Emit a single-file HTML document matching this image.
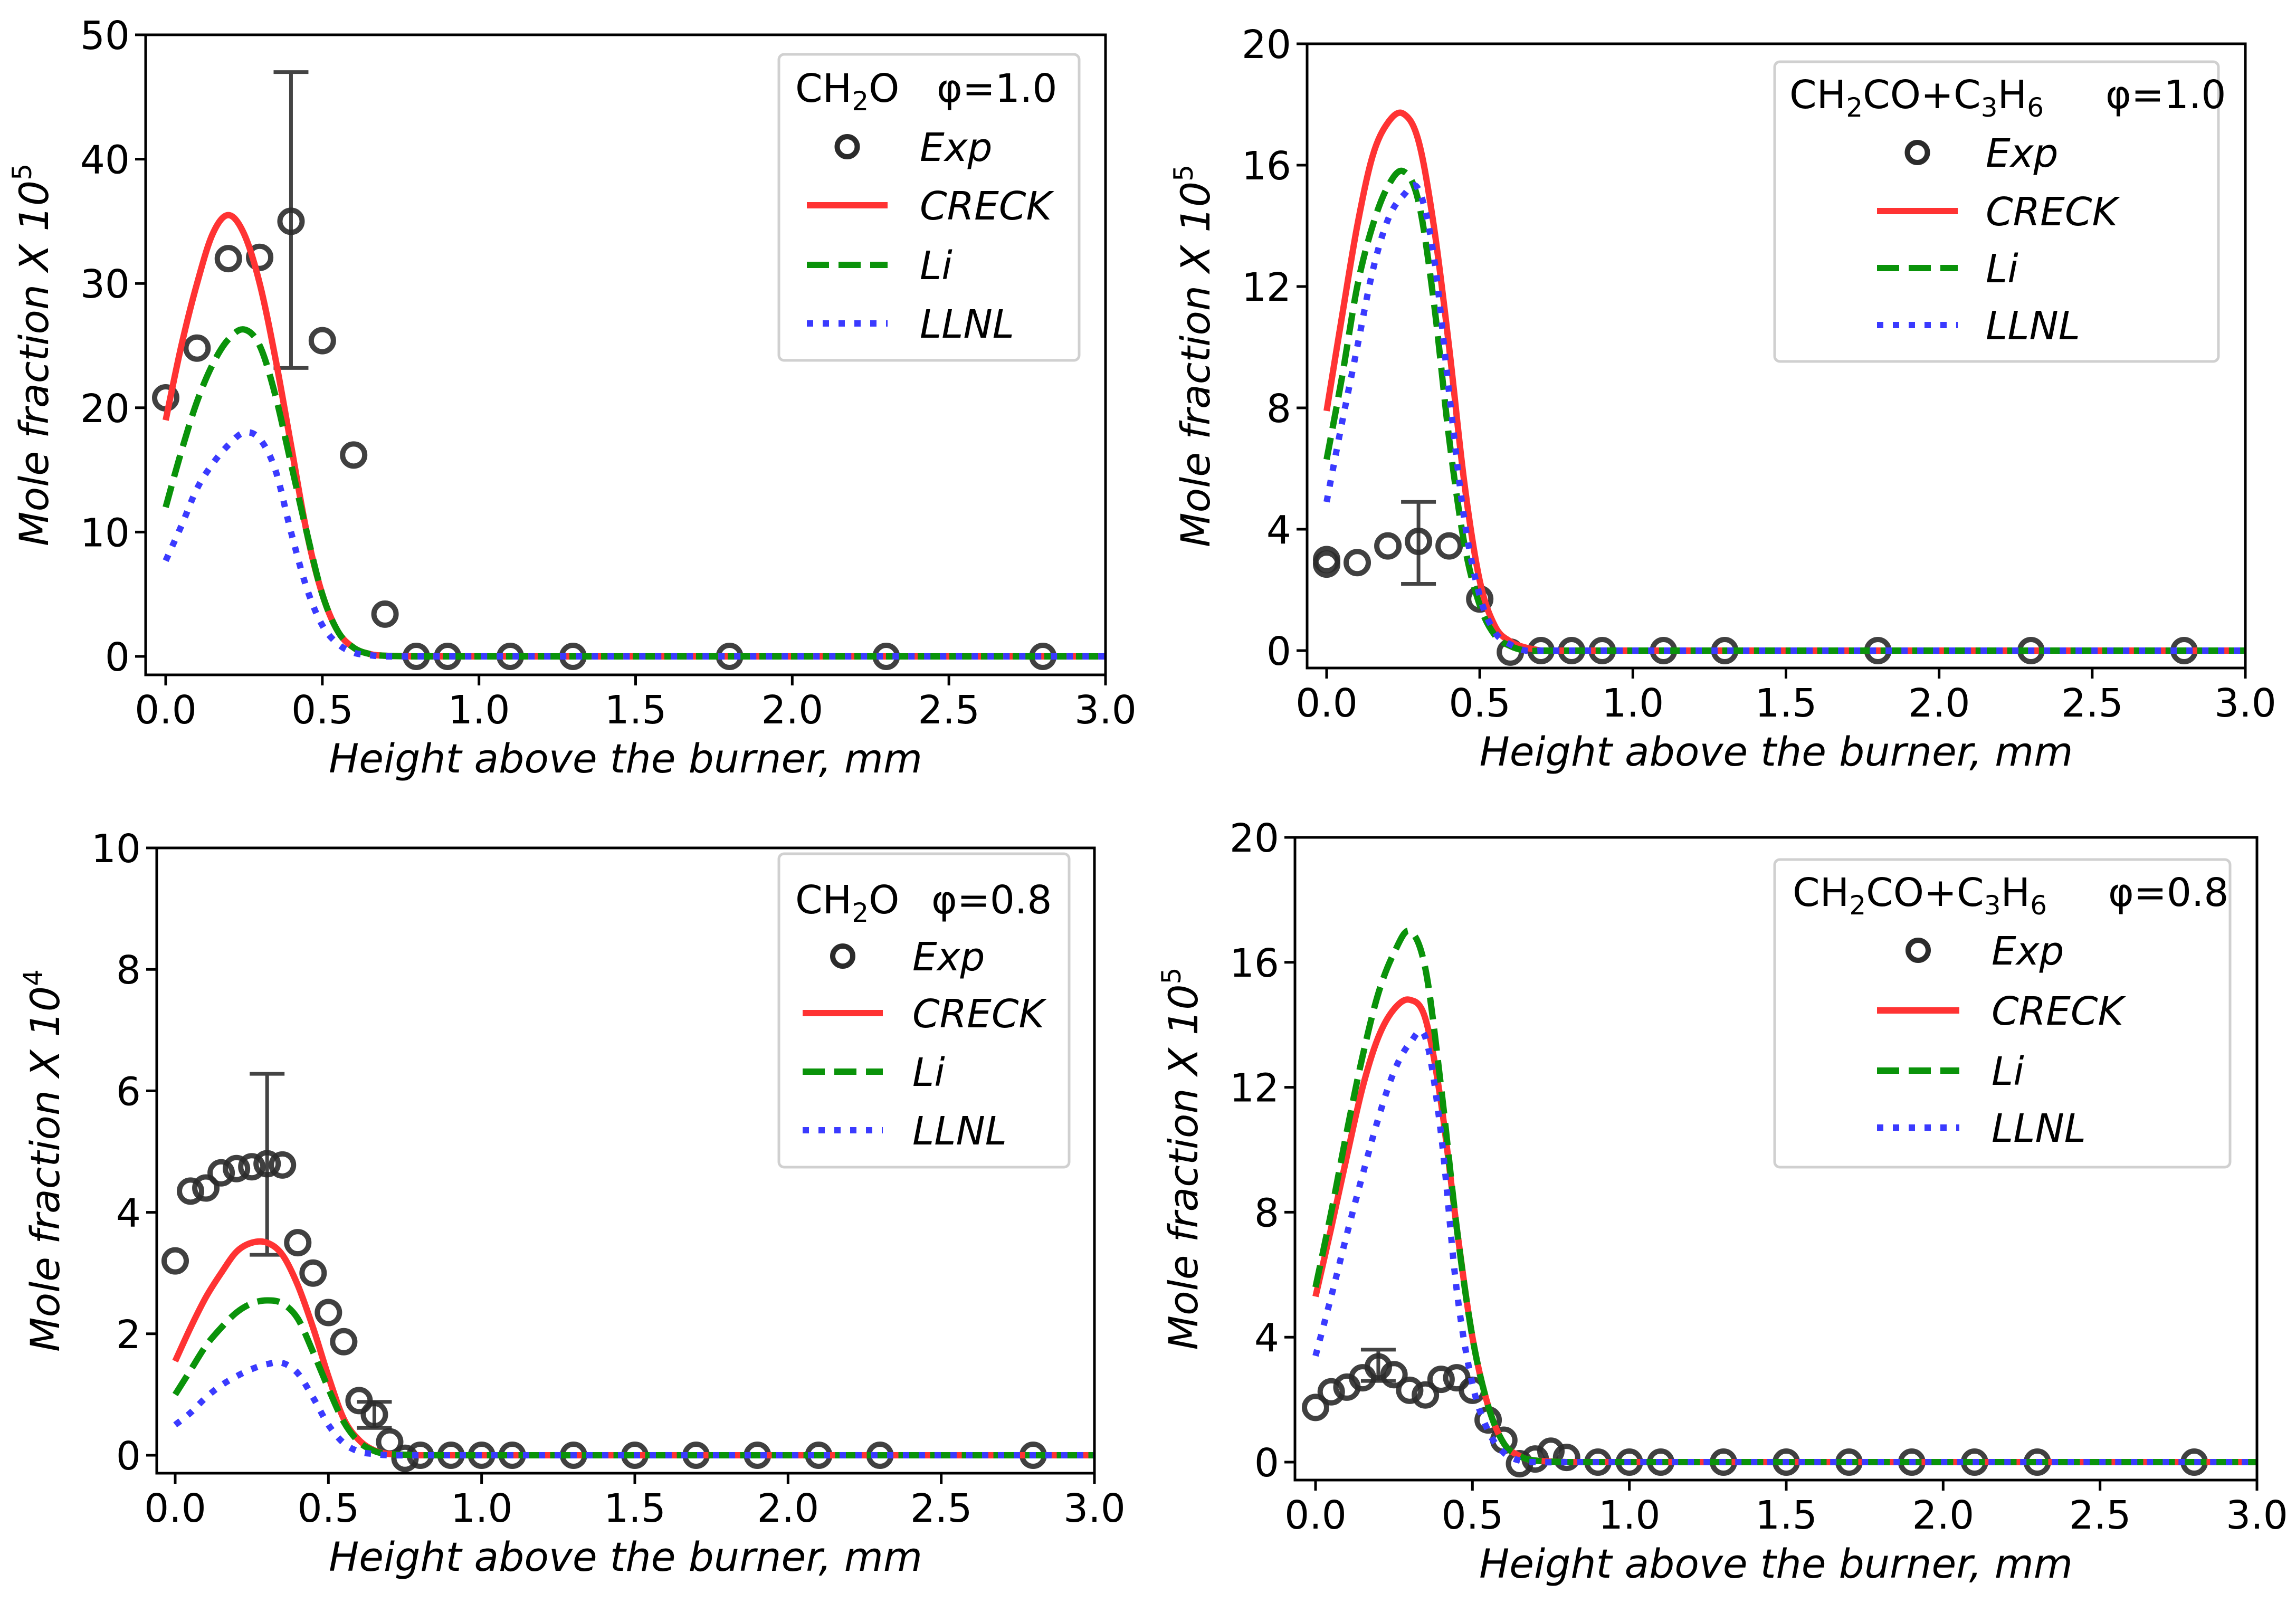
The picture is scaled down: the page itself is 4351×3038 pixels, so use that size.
<!DOCTYPE html>
<html><head><meta charset="utf-8"><style>
html,body{margin:0;padding:0;background:#fff}
svg{display:block}
text{font-family:"DejaVu Sans","Liberation Sans",sans-serif;fill:#000}
</style></head><body>
<svg id="fig" width="4351" height="3038" viewBox="0 0 4351 3038" xmlns="http://www.w3.org/2000/svg"></svg>
<script>
// ---- Panel A: CH2O phi=1.0 (x1e5)
const xA = [0,0.05,0.1,0.15,0.2,0.25,0.3,0.35,0.4,0.45,0.5,0.55,0.6,0.65,0.7,0.8,3.0];
const crecksA = [19,25,30,34,35.5,34,30,24,17,10,5,2,0.7,0.2,0.05,0,0];
const liA = [12,16.5,20.5,23.5,25.5,26.3,25,21,15.5,10,5,2,0.7,0.2,0.05,0,0];
const llnlA = [7.7,10.5,13.5,15.5,17,18,17.5,15,10,5.5,2.5,1,0.3,0.1,0,0,0];
const expXA = [0,0.1,0.2,0.3,0.4,0.5,0.6,0.7,0.8,0.9,1.1,1.3,1.8,2.3,2.8];
const expYA = [20.8,24.8,32,32.1,35,25.4,16.2,3.4,0,0,0,0,0,0,0];
const errA = [[0.4,23.2,47]];
const yTicksA = [0,10,20,30,40,50];

// ---- Panel B: CH2CO+C3H6 phi=1.0 (x1e5)
const xB = [0,0.05,0.1,0.15,0.2,0.25,0.3,0.35,0.4,0.45,0.5,0.55,0.6,0.65,0.7,3.0];
const crecksB = [7.9,11,14,16.3,17.4,17.7,16.8,14,10,5.5,2.3,0.8,0.3,0.1,0,0];
const liB = [6.3,9,12,14,15.3,15.8,14.8,11.5,7,3.5,1.5,0.5,0.15,0,0,0];
const llnlB = [4.9,7.5,10,12.5,14.2,15,15.2,13,8.5,4.3,1.8,0.6,0.2,0,0,0];
const expXB = [0,0,0.1,0.2,0.3,0.4,0.5,0.6,0.7,0.8,0.9,1.1,1.3,1.8,2.3,2.8];
const expYB = [2.85,3.0,2.9,3.45,3.6,3.45,1.7,-0.05,0,0,0,0,0,0,0,0];
const errB = [[0.3,2.2,4.9]];
const yTicksB = [0,4,8,12,16,20];

// ---- Panel C: CH2O phi=0.8 (x1e4)
const xC = [0,0.05,0.1,0.15,0.2,0.25,0.3,0.35,0.4,0.45,0.5,0.55,0.6,0.65,0.7,0.8,3.0];
const crecksC = [1.55,2.1,2.6,3.0,3.35,3.5,3.5,3.3,2.8,2.1,1.3,0.6,0.25,0.08,0.02,0,0];
const liC = [1.0,1.4,1.8,2.1,2.35,2.5,2.55,2.5,2.25,1.7,1.1,0.55,0.22,0.07,0.02,0,0];
const llnlC = [0.5,0.7,0.95,1.15,1.3,1.42,1.5,1.52,1.35,0.95,0.5,0.2,0.06,0.02,0,0,0];
const expXC = [0,0.05,0.1,0.15,0.2,0.25,0.3,0.35,0.4,0.45,0.5,0.55,0.6,0.65,0.7,0.75,0.8,0.9,1.0,1.1,1.3,1.5,1.7,1.9,2.1,2.3,2.8];
const expYC = [3.2,4.35,4.4,4.65,4.72,4.75,4.8,4.78,3.5,3.0,2.35,1.87,0.9,0.67,0.22,-0.05,0,0,0,0,0,0,0,0,0,0,0];
const errC = [[0.3,3.3,6.28],[0.65,0.45,0.88]];
const yTicksC = [0,2,4,6,8,10];

// ---- Panel D: CH2CO+C3H6 phi=0.8 (x1e5)
const xD = [0,0.05,0.1,0.15,0.2,0.25,0.3,0.35,0.4,0.45,0.5,0.55,0.6,0.65,0.7,0.8,3.0];
const crecksD = [5.3,7.5,9.8,12,13.6,14.5,14.8,14.2,11.5,7.5,4.0,1.8,0.6,0.2,0.05,0,0];
const liD = [5.6,8,10.6,13,15,16.3,17,15.8,12,7.5,4.0,1.8,0.6,0.2,0.05,0,0];
const llnlD = [3.4,5.3,7.3,9.2,11,12.5,13.4,13.6,10.5,5.5,2.5,1,0.3,0.05,0,0,0];
const expXD = [0,0.05,0.1,0.15,0.2,0.25,0.3,0.35,0.4,0.45,0.5,0.55,0.6,0.65,0.7,0.75,0.8,0.9,1.0,1.1,1.3,1.5,1.7,1.9,2.1,2.3,2.8];
const expYD = [1.75,2.25,2.4,2.7,3.05,2.8,2.3,2.15,2.65,2.7,2.3,1.35,0.7,-0.05,0.1,0.35,0.15,0,0,0,0,0,0,0,0,0,0];
const errD = [[0.2,2.6,3.6]];
const yTicksD = [0,4,8,12,16,20];

const xTicks = [0,0.5,1.0,1.5,2.0,2.5,3.0];
const xTickLabels = ["0.0","0.5","1.0","1.5","2.0","2.5","3.0"];

const NS = "http://www.w3.org/2000/svg";
const fig = document.getElementById('fig');
function mk(tag, attrs, parent){
  const e = document.createElementNS(NS, tag);
  for (const k in attrs) e.setAttribute(k, attrs[k]);
  (parent||fig).appendChild(e);
  return e;
}
function smoothPath(pts){
  const n=pts.length;
  const far=(a,b)=>Math.abs(b[0]-a[0])>300;
  let d = 'M'+pts[0][0].toFixed(1)+' '+pts[0][1].toFixed(1);
  for(let i=0;i<n-1;i++){
    const p1=pts[i], p2=pts[i+1];
    if(far(p1,p2)){ d+=' L'+p2[0].toFixed(1)+' '+p2[1].toFixed(1); continue; }
    let p0=pts[Math.max(0,i-1)], p3=pts[Math.min(n-1,i+2)];
    if(far(p0,p1)) p0=p1;
    if(far(p2,p3)) p3=p2;
    const t=1/6;
    const c1=[p1[0]+(p2[0]-p0[0])*t, p1[1]+(p2[1]-p0[1])*t];
    const c2=[p2[0]-(p3[0]-p1[0])*t, p2[1]-(p3[1]-p1[1])*t];
    d+=' C'+c1[0].toFixed(1)+' '+c1[1].toFixed(1)+' '+c2[0].toFixed(1)+' '+c2[1].toFixed(1)+' '+p2[0].toFixed(1)+' '+p2[1].toFixed(1);
  }
  return d;
}

const panels = [
 {id:'a', box:[276,66,2095,1279], x0px:314, y0px:1244, ymax:50, xs:xA, c:crecksA, l:liA, n:llnlA, ex:expXA, ey:expYA, err:errA, yt:yTicksA, exp:'5',
  leg:[1476,103,2045,683], rows:[166,278,389,502,613], hx:[1529,1682], tx:1743, titleX:1507, phi:'φ=1.0', phiX:1775},
 {id:'b', box:[2477,83,4255,1266], x0px:2514, y0px:1233, ymax:20, xs:xB, c:crecksB, l:liB, n:llnlB, ex:expXB, ey:expYB, err:errB, yt:yTicksB, exp:'5',
  leg:[3363,117,4204,685], rows:[178,289,400,508,616], hx:[3557,3710], tx:3763, titleX:3391, chco:true, phi:'φ=1.0', phiX:3990},
 {id:'c', box:[297,1607,2074,2792], x0px:332, y0px:2758, ymax:10, xs:xC, c:crecksC, l:liC, n:llnlC, ex:expXC, ey:expYC, err:errC, yt:yTicksC, exp:'4',
  leg:[1476,1618,2026,2212], rows:[1704,1812,1920,2031,2142], hx:[1521,1673], tx:1729, titleX:1507, phi:'φ=0.8', phiX:1765},
 {id:'d', box:[2454,1587,4277,2805], x0px:2493, y0px:2771, ymax:20, xs:xD, c:crecksD, l:liD, n:llnlD, ex:expXD, ey:expYD, err:errD, yt:yTicksD, exp:'5',
  leg:[3363,1629,4226,2212], rows:[1690,1801,1915,2029,2137], hx:[3557,3713], tx:3774, titleX:3397, chco:true, phi:'φ=0.8', phiX:3995}
];

const FS = 74;
const RED='#ff3333', GREEN='#0a930a', BLUE='#3a3aff';

panels.forEach(p=>{
  const [L,T,R,B] = p.box;
  const sx = v => p.x0px + v*(R-p.x0px)/3.0;
  const sy = v => p.y0px - v*(p.y0px-T)/p.ymax;
  const g = mk('g',{});
  
  
  const clipId='clip'+p.id;
  const cp = mk('clipPath',{id:clipId},g);
  mk('rect',{x:L,y:T,width:R-L,height:B-T},cp);
  const plot = mk('g',{'clip-path':'url(#'+clipId+')'},g);
  
  

  p.err.forEach(e=>{
    const eg = mk('g',{stroke:'#444',"stroke-width":7},plot);
    
    
    const x=sx(e[0]);
    mk('line',{x1:x,x2:x,y1:sy(e[1]),y2:sy(e[2])},eg);
    mk('line',{x1:x-33,x2:x+33,y1:sy(e[1]),y2:sy(e[1])},eg);
    mk('line',{x1:x-33,x2:x+33,y1:sy(e[2]),y2:sy(e[2])},eg);
  });
  p.ex.forEach((xv,i)=>{
    const c = mk('circle',{cx:sx(xv),cy:sy(p.ey[i]),r:21,fill:'none',stroke:'#2b2b2b','stroke-width':10,'stroke-opacity':0.9},plot);
    
    
  });
  const mkLine=(ys,color,dash,name)=>{
    const pts = p.xs.map((xv,i)=>[sx(xv),sy(ys[i])]);
    const a={d:smoothPath(pts),fill:'none',stroke:color,'stroke-width':12,'stroke-linejoin':'round'};
    if(dash) a['stroke-dasharray']=dash;
    const e = mk('path',a,plot);
    
    
  };
  mkLine(p.c,RED,null,'creck-line');
  mkLine(p.l,GREEN,'42 18','li-line');
  mkLine(p.n,BLUE,'12 18','llnl-line');

  const fr = mk('rect',{x:L,y:T,width:R-L,height:B-T,fill:'none',stroke:'#000','stroke-width':5},g);
  
  

  xTicks.forEach((v,i)=>{
    const x=sx(v);
    mk('line',{x1:x,x2:x,y1:B,y2:B+20,stroke:'#000','stroke-width':5},g);
    const t = mk('text',{x:x,y:B+92,'font-size':FS,'text-anchor':'middle'},g);
    t.textContent = xTickLabels[i];
    
    
  });
  p.yt.forEach(v=>{
    const y=sy(v);
    mk('line',{x1:L-20,x2:L,y1:y,y2:y,stroke:'#000','stroke-width':5},g);
    const t = mk('text',{x:L-30,y:y+27,'font-size':FS,'text-anchor':'end'},g);
    t.textContent = String(v);
    
    
  });
  const xl = mk('text',{x:(L+R)/2,y:B+185,'font-size':76,'font-style':'italic','text-anchor':'middle'},g);
  xl.textContent='Height above the burner, mm';
  
  
  const yx = L-185, yy=(T+B)/2;
  const yl = mk('text',{x:yx,y:yy,'font-size':76,'font-style':'italic','text-anchor':'middle',transform:'rotate(-90 '+yx+' '+yy+')'},g);
  
  
  const t1 = mk('tspan',{},yl); t1.textContent='Mole fraction X 10';
  const t2 = mk('tspan',{'font-size':50,'font-style':'normal',dy:-32}, yl); t2.textContent=p.exp;

  const [lx1,ly1,lx2,ly2]=p.leg;
  const lg = mk('g',{},g);
  
  
  mk('rect',{x:lx1,y:ly1,width:lx2-lx1,height:ly2-ly1,rx:10,fill:'#fff','fill-opacity':0.8,stroke:'#d0d0d0','stroke-width':5},lg);
  const tt = mk('text',{x:p.titleX,y:p.rows[0]+27,'font-size':FS},lg);
  
  
  const addT=(s,sub)=>{const e=mk('tspan',sub?{'font-size':50,dy:16}:{dy:sub===false?-16:0},tt);e.textContent=s;};
  if(p.chco){
    addT('CH'); addT('2',true); addT('CO+C',false); addT('3',true); addT('H',false); addT('6',true);
  } else {
    addT('CH'); addT('2',true); addT('O',false);
  }
  const ph = mk('text',{x:p.phiX,y:p.rows[0]+27,'font-size':FS},lg);
  ph.textContent=p.phi;
  const [h1,h2]=p.hx, hm=(h1+h2)/2;
  const names=['Exp','CRECK','Li','LLNL'];
  names.forEach((nm,i)=>{
    const y=p.rows[i+1];
    const eg = mk('g',{},lg);
    
    
    if(i===0) mk('circle',{cx:hm,cy:y,r:19,fill:'none',stroke:'#2b2b2b','stroke-width':10},eg);
    if(i===1) mk('line',{x1:h1,x2:h2,y1:y,y2:y,stroke:RED,'stroke-width':12},eg);
    if(i===2) mk('line',{x1:h1,x2:h2,y1:y,y2:y,stroke:GREEN,'stroke-width':12,'stroke-dasharray':'42 18'},eg);
    if(i===3) mk('line',{x1:h1,x2:h2,y1:y,y2:y,stroke:BLUE,'stroke-width':12,'stroke-dasharray':'12 18'},eg);
    const t = mk('text',{x:p.tx,y:y+27,'font-size':FS,'font-style':'italic'},eg);
    t.textContent=nm;
  });
});
</script>
</body></html>
